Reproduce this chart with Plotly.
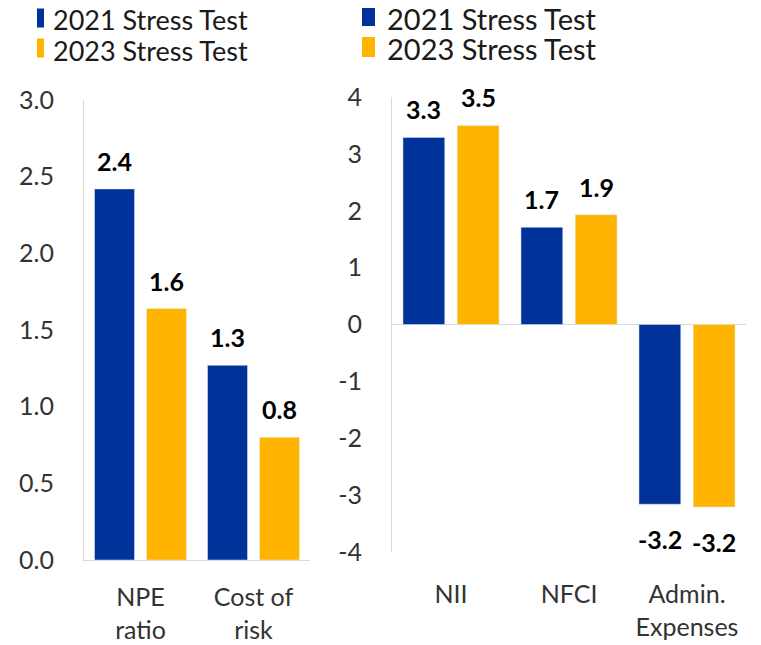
import plotly.graph_objects as go

# data
series_names = ["2021 Stress Test", "2023 Stress Test"]
colors = ["#003299", "#FFB400"]

left_categories = ["NPE<br>ratio", "Cost of<br>risk"]
left_2021 = [2.42, 1.27]
left_2023 = [1.64, 0.80]

right_categories = ["NII", "NFCI", "Admin.<br>Expenses"]
right_2021 = [3.29, 1.71, -3.16]
right_2023 = [3.50, 1.93, -3.21]

left_ticks = [0, 0.5, 1.0, 1.5, 2.0, 2.5, 3.0]
right_ticks = [-4, -3, -2, -1, 0, 1, 2, 3, 4]

W, H = 761, 645
OFF = 8  # page body margin
FONT = "Lato"
TEXT = "#333333"
AXIS = "#d9d9d9"
BARGAP = 0.08


def px(x):
    # screen pixel -> paper x
    return (x - OFF) / W


def py(y):
    # screen pixel -> paper y
    return 1 - (y - OFF) / H


fig = go.Figure()

# bars
for name, col, vals in zip(series_names, colors, [left_2021, left_2023]):
    fig.add_trace(go.Bar(x=left_categories, y=vals, name=name, marker_color=col,
                         xaxis="x", yaxis="y", showlegend=False))
for name, col, vals in zip(series_names, colors, [right_2021, right_2023]):
    fig.add_trace(go.Bar(x=right_categories, y=vals, name=name, marker_color=col,
                         xaxis="x2", yaxis="y2", showlegend=False))


# legends drawn by hand: colour swatch + text, one row per series
def add_legend(x_mark, mark_w, x_text, y_first, row_h, mark_h, size):
    for i, (name, col) in enumerate(zip(series_names, colors)):
        yc = y_first + i * row_h
        fig.add_shape(type="rect", xref="paper", yref="paper",
                      x0=px(x_mark), x1=px(x_mark + mark_w),
                      y0=py(yc - mark_h / 2 - 2), y1=py(yc + mark_h / 2 - 2),
                      fillcolor=col, line_width=0)
        fig.add_annotation(x=px(x_text), y=py(yc), xref="paper", yref="paper", text=name,
                           showarrow=False, xanchor="left", yanchor="middle",
                           font=dict(family=FONT, size=size, color="#1a1a1a"))


add_legend(37, 7, 51, 20, 30, 19, 27)
add_legend(362, 13, 385, 18, 31, 20, 29)


# data labels
def add_labels(cats, s1, s2, xref, yref, cat_px):
    shift = cat_px * (1 - BARGAP) / 4
    for cat, a, b in zip(cats, s1, s2):
        for v, dx in ((a, -shift), (b, shift)):
            fig.add_annotation(x=cat, y=v, xref=xref, yref=yref, text=f"{v:.1f}",
                               showarrow=False, xshift=dx, yshift=28 if v >= 0 else -35,
                               font=dict(family=FONT, size=25, color="#000000", weight="bold"))


lx = [px(84), px(310)]
rx = [px(392), px(746)]
add_labels(left_categories, left_2021, left_2023, "x", "y", (lx[1] - lx[0]) * W / len(left_categories))
add_labels(right_categories, right_2021, right_2023, "x2", "y2", (rx[1] - rx[0]) * W / len(right_categories))

tickfont = dict(family=FONT, size=25, color=TEXT)

fig.update_layout(
    width=W, height=H,
    margin=dict(l=0, r=0, t=0, b=0, autoexpand=False),
    paper_bgcolor="white", plot_bgcolor="white",
    showlegend=False,
    barmode="group", bargap=BARGAP, bargroupgap=0.23,
    xaxis=dict(domain=lx, anchor="y", showline=True, linecolor=AXIS, linewidth=1,
               showgrid=False, ticks="", tickfont=tickfont, ticklabelstandoff=15, automargin=False),
    yaxis=dict(domain=[py(560), py(100)], anchor="x", range=[0, 3], tickvals=left_ticks,
               tickformat=".1f", showline=True, linecolor=AXIS, showgrid=False, zeroline=False,
               ticks="", tickfont=tickfont, ticklabelstandoff=24, automargin=False),
    xaxis2=dict(domain=rx, anchor="y2", showline=False, showgrid=False, ticks="",
                tickfont=tickfont, ticklabelstandoff=25, automargin=False),
    yaxis2=dict(domain=[py(552), py(97)], anchor="x2", range=[-4, 4], tickvals=right_ticks,
                ticktext=[str(t) for t in right_ticks],
                showline=True, linecolor=AXIS, showgrid=False, zeroline=True, zerolinecolor=AXIS,
                zerolinewidth=1, ticks="", tickfont=tickfont, ticklabelstandoff=24, automargin=False),
)

fig.write_html("out.html")
